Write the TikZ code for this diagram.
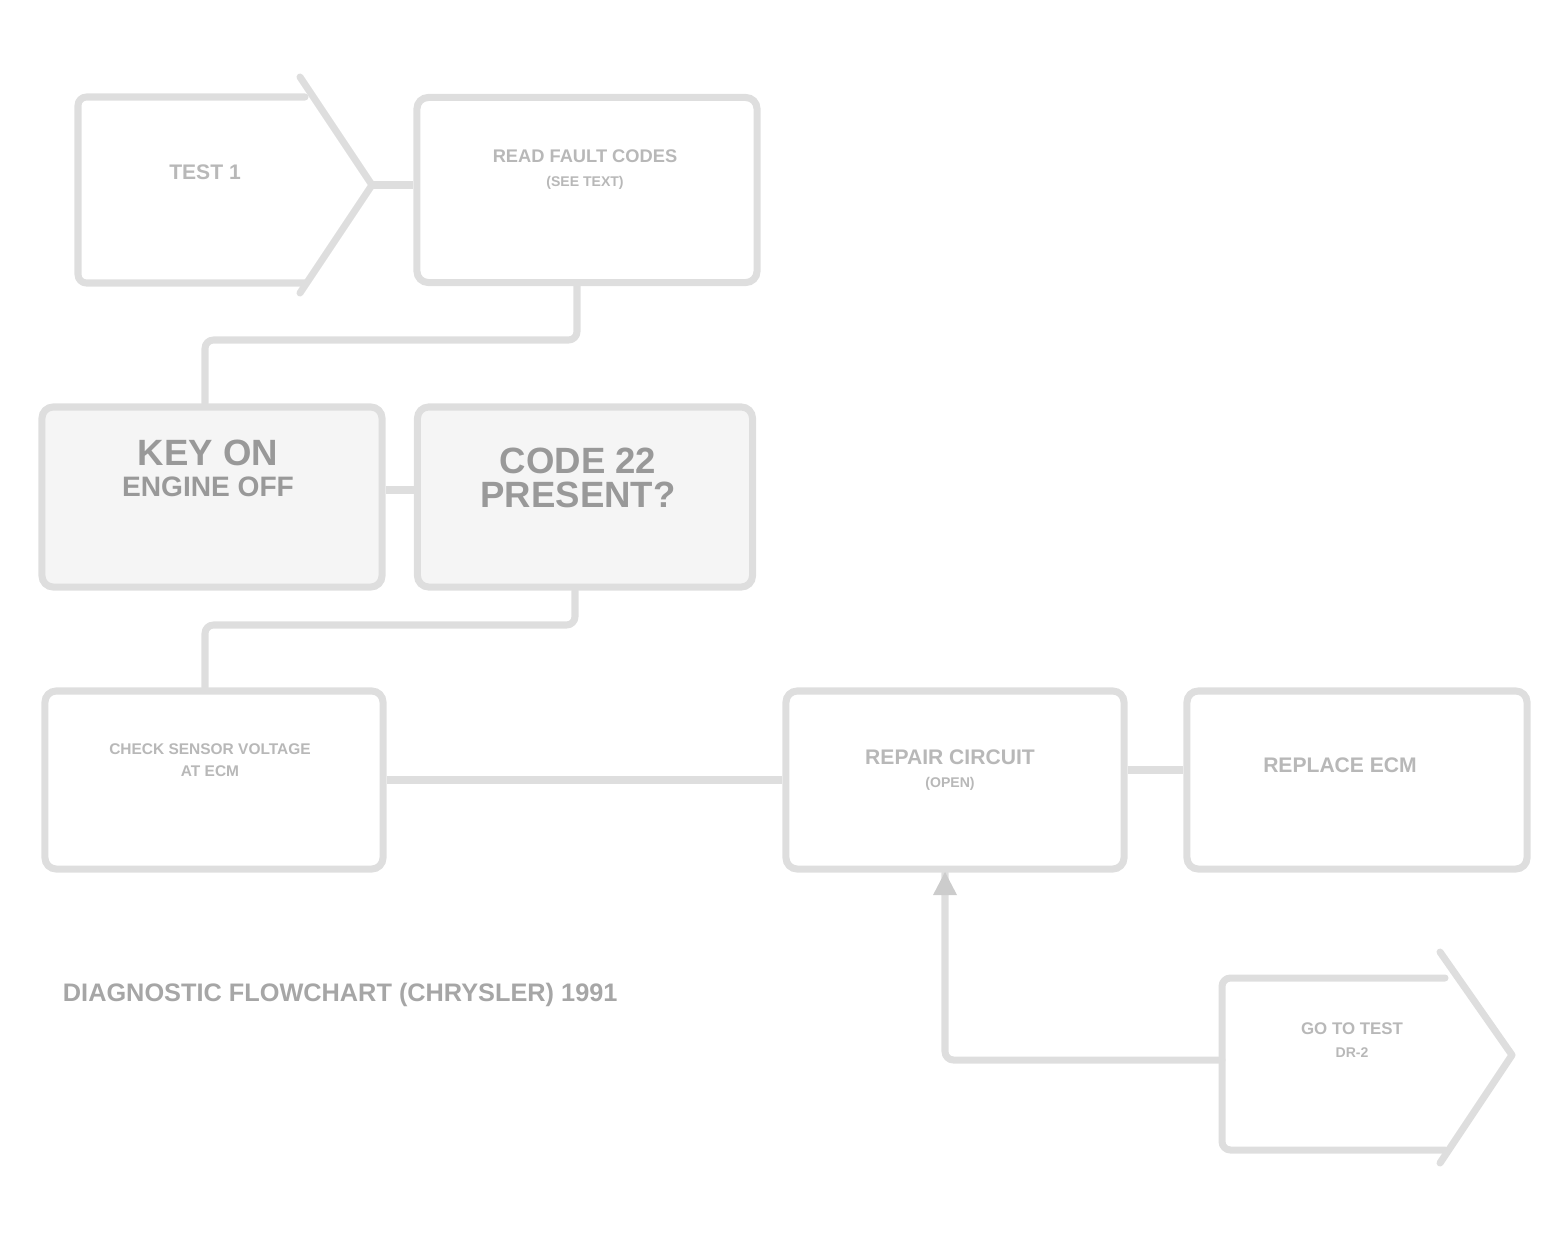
\documentclass[tikz,border=0pt]{standalone}
\usepackage{fontspec}
\setmainfont{Liberation Sans}
\begin{document}
\begin{tikzpicture}[x=0.025cm,y=-0.025cm,
  ln/.style={draw=black!13,line width=5pt,line join=round,line cap=round,rounded corners=6pt},
  wire/.style={draw=black!13,line width=5pt,line join=round},
  boxn/.style={draw=black!13,line width=5pt,rounded corners=8pt,fill=white,inner sep=0pt},
  txt/.style={text=black!28,font=\bfseries\fontsize{13}{15}\selectfont,align=center},
  bigtxt/.style={text=black!40,font=\bfseries\fontsize{26}{28}\selectfont,align=center},
  captxt/.style={text=black!35,font=\bfseries\fontsize{18}{20}\selectfont,anchor=west}]
\useasboundingbox (0,0) rectangle (1564,1251);

% Box A (chevron)
\draw[ln] (305,97) -- (78,97) -- (78,283) -- (305,283);
\draw[ln,rounded corners=0pt] (300,77) -- (372,185) -- (300,293);
\node[txt] (A) at (205,172) {\fontsize{15}{17}\selectfont TEST 1};
\coordinate (Atip) at (372,185);

% Box B
\node[boxn,minimum width=8.5cm,minimum height=4.625cm] (B) at (587,190) {};
\node[txt] (Bt) at (585,170) {READ FAULT CODES\\[2pt]\fontsize{10}{12}\selectfont(SEE TEXT)};

% Row 2
\node[boxn,fill=black!4,minimum width=8.5cm,minimum height=4.5cm] (C) at (212,497) {};
\node[bigtxt] (Ct) at (208,468) {KEY ON\\[-6pt]\fontsize{20}{22}\selectfont ENGINE OFF};
\node[boxn,fill=black!4,minimum width=8.375cm,minimum height=4.5cm] (D) at (585,497) {};
\node[bigtxt] (Dt) at (578,478) {CODE 22\\[-4pt]PRESENT?};

% Row 3
\node[boxn,minimum width=8.45cm,minimum height=4.45cm] (E) at (214,780) {};
\node[txt] (Et) at (210,760) {\fontsize{11}{13}\selectfont CHECK SENSOR VOLTAGE\\[1pt]\fontsize{11}{13}\selectfont AT ECM};
\node[boxn,minimum width=8.45cm,minimum height=4.45cm] (F) at (955,780) {};
\node[txt] (Ft) at (950,770) {\fontsize{15}{17}\selectfont REPAIR CIRCUIT\\[1pt]\fontsize{10}{12}\selectfont (OPEN)};
\node[boxn,minimum width=8.5cm,minimum height=4.45cm] (G) at (1357,780) {};
\node[txt] (Gt) at (1340,765) {\fontsize{15}{17}\selectfont REPLACE ECM};

% Box H (chevron)
\draw[ln] (1445,978) -- (1222,978) -- (1222,1150) -- (1445,1150);
\draw[ln,rounded corners=0pt] (1440,952) -- (1512,1055) -- (1440,1163);
\node[txt] (H) at (1352,1040) {\fontsize{12}{14}\selectfont GO TO TEST\\[1pt]\fontsize{10}{12}\selectfont DR-2};
\coordinate (Hin) at (1222,1060);

% Connectors
\draw[wire] (Atip) -- (B.west |- Atip);
\draw[ln] (B.south) ++(-10,0) coordinate (b1) -- (b1 |- 0,340) -- (205,340) -- (C.north -| 205,0);
\draw[ln] (D.south) ++(-10,0) coordinate (d1) -- (d1 |- 0,625) -- (205,625) -- (E.north -| 205,0);
\draw[wire] (C.east |- 0,490) -- (D.west |- 0,490);
\draw[wire] (E.east) -- (F.west);
\draw[wire] (F.east |- 0,770) -- (G.west |- 0,770);
\draw[ln] (F.south -| 945,0) -- (945,1060) -- (Hin);
\fill[black!20] (945,872) -- (933,895) -- (957,895) -- cycle;

% Caption
\node[captxt] (capn) at (58,995) {DIAGNOSTIC FLOWCHART (CHRYSLER) 1991};
\end{tikzpicture}
\end{document}
